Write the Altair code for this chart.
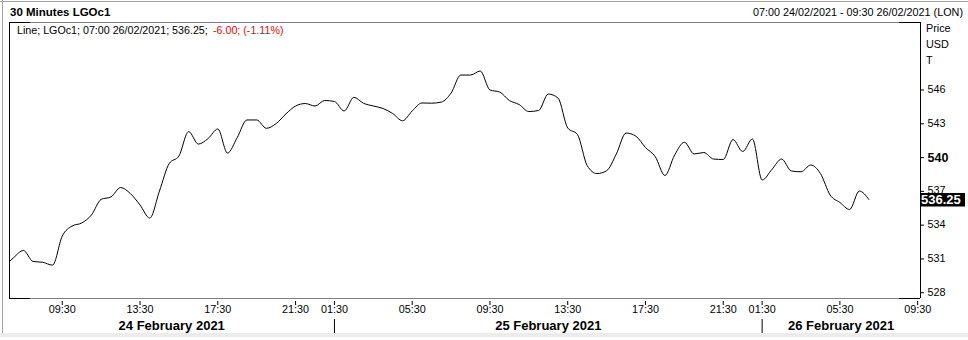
import altair as alt
import pandas as pd

# ---------------- data ----------------
# bar index: 0 = 07:00 24/02/2021, 30-minute bars, session 01:00-23:00 London; -1 = 06:30 (clipped)
bar_index = list(range(-1, 89))
close_prices = [
    530.28, 531.12, 531.75, 530.77, 530.70, 530.45, 533.03, 533.92, 534.19, 534.90,
    536.29, 536.50, 537.34, 536.81, 535.79, 534.63, 537.03, 539.47, 540.14, 542.31,
    541.20, 541.69, 542.54, 540.40, 541.78, 543.34, 543.34, 542.60, 543.02, 543.87,
    544.58, 544.80, 544.58, 545.07, 544.98, 544.14, 545.35, 544.82, 544.58, 544.36,
    543.91, 543.27, 544.14, 544.85, 544.83, 544.93, 545.73, 547.33, 547.33, 547.69,
    546.00, 545.82, 545.07, 544.71, 544.09, 544.18, 545.64, 545.29, 542.63, 542.05,
    539.29, 538.58, 538.83, 540.32, 542.18, 541.91, 540.89, 540.09, 538.41, 540.23,
    541.36, 540.32, 540.45, 539.87, 539.83, 541.60, 540.54, 541.65, 538.01, 538.94,
    539.87, 538.81, 538.74, 539.34, 538.58, 536.67, 536.01, 535.39, 537.03, 536.25,
]
tick_idx = [5, 13, 21, 29, 33, 41, 49, 57, 65, 73, 77, 85, 93]
tick_labels = ["09:30", "13:30", "17:30", "21:30", "01:30", "05:30", "09:30",
               "13:30", "17:30", "21:30", "01:30", "05:30", "09:30"]
y_ticks = [528, 531, 534, 537, 540, 543, 546]
y_bold_tick = 540
x_domain = [-0.48, 93.24]
y_domain = [527.53, 552.04]
day_breaks = [33, 77]
day_labels = ["24 February 2021", "25 February 2021", "26 February 2021"]

title_text = "30 Minutes LGOc1"
range_text = "07:00 24/02/2021 - 09:30 26/02/2021 (LON)"
info_text = f"Line; LGOc1; 07:00 26/02/2021; {close_prices[-1]:.2f}; "
change_text = "-6.00; (-1.11%)"

# ---------------- chart ----------------
FONT = "Liberation Sans"
W, H = 911, 276

df = pd.DataFrame({"idx": bar_index, "price": close_prices})
xscale = alt.Scale(domain=x_domain, nice=False, zero=False)
yscale = alt.Scale(domain=y_domain, nice=False, zero=False)


def X(field):
    return alt.X(field, scale=xscale, axis=None)


def Y(field):
    return alt.Y(field, scale=yscale, axis=None)


line = alt.Chart(df).mark_line(
    color="black", strokeWidth=1, interpolate="monotone", clip=True
).encode(x=X("idx:Q"), y=Y("price:Q"))

dummy = pd.DataFrame({"d": [0]})


def hline(x1, x2, y, color):
    return alt.Chart(dummy).mark_rule(color=color, strokeWidth=1).encode(
        x=alt.value(x1), x2=alt.value(x2), y=alt.value(y))


def vline(x, y1, y2, color):
    return alt.Chart(dummy).mark_rule(color=color, strokeWidth=1).encode(
        x=alt.value(x), y=alt.value(y1), y2=alt.value(y2))


def label(text, x, y, size=10.8, weight="normal", color="black", align="left"):
    return alt.Chart(dummy).mark_text(
        text=text, font=FONT, fontSize=size, fontWeight=weight, color=color,
        align=align, baseline="middle").encode(x=alt.value(x), y=alt.value(y))


frame = [
    hline(0, W, 0.5, "#808080"),
    hline(0, 21, 0.5, "black"),
    hline(W - 21, W, 0.5, "black"),
    hline(0, W, H + 0.5, "#808080"),
    hline(0, 21, H + 0.5, "black"),
    hline(W - 21, W, H + 0.5, "black"),
    vline(0.5, 0, H, "black"),
    vline(W + 0.5, 0, H, "black"),
    hline(-9, 959, -20.5, "#a0a0a0"),
    vline(-6.5, -22, 311, "#a0a0a0"),
]

band = alt.Chart(dummy).mark_rect(color="#ececec").encode(
    x=alt.value(-9), x2=alt.value(959), y=alt.value(311), y2=alt.value(315))

# x axis (time ticks)
xt_df = pd.DataFrame({"idx": tick_idx, "label": tick_labels})
x_ticks = alt.Chart(xt_df).mark_rule(color="black").encode(
    x=X("idx:Q"), y=alt.value(H + 3), y2=alt.value(H + 7))
x_labels = alt.Chart(xt_df).mark_text(
    font=FONT, fontSize=10.8, color="black", baseline="middle"
).encode(x=X("idx:Q"), y=alt.value(H + 12), text="label:N")

# y axis (price ticks, right side)
yt_df = pd.DataFrame({"v": y_ticks})
y_tick_marks = alt.Chart(yt_df).mark_rule(color="black").encode(
    x=alt.value(W), x2=alt.value(W + 4), y=Y("v:Q"))
y_labels = alt.Chart(yt_df).transform_filter(f"datum.v != {y_bold_tick}").mark_text(
    font=FONT, fontSize=10.8, color="black", align="left", baseline="middle"
).encode(x=alt.value(W + 7.5), y=Y("v:Q"), text="v:Q")
y_label_bold = alt.Chart(yt_df).transform_filter(f"datum.v == {y_bold_tick}").mark_text(
    font=FONT, fontSize=12.5, fontWeight="bold", color="black", align="left", baseline="middle"
).encode(x=alt.value(W + 7.5), y=Y("v:Q"), text="v:Q")

seps = alt.Chart(pd.DataFrame({"idx": day_breaks})).mark_rule(color="black").encode(
    x=X("idx:Q"), y=alt.value(297), y2=alt.value(311))

bounds = [x_domain[0]] + day_breaks + [x_domain[1]]
centers = [(a + b) / 2 for a, b in zip(bounds[:-1], bounds[1:])]
dates = alt.Chart(pd.DataFrame({"mid": centers, "label": day_labels})).mark_text(
    font=FONT, fontSize=13, fontWeight="bold", color="black", baseline="middle"
).encode(x=X("mid:Q"), y=alt.value(303.5), text="label:N")

last_df = pd.DataFrame({"price": [close_prices[-1]], "label": [f"{close_prices[-1]:.2f}"]})
box = alt.Chart(last_df).mark_rule(color="black", strokeWidth=13.5, strokeCap="butt").encode(
    x=alt.value(911.5), x2=alt.value(956), y=Y("price:Q"))
box_text = alt.Chart(last_df).mark_text(
    color="white", font=FONT, fontSize=13, fontWeight="bold", align="left", baseline="middle"
).encode(x=alt.value(912), y=Y("price:Q"), text="label:N")

texts = [
    label(title_text, 1, -9, size=11.5, weight="bold"),
    label(range_text, 954, -9, align="right"),
    label(info_text, 8, 9.3, size=10.7),
    label(change_text, 204, 9.3, size=10.7, color="#ff0000"),
    label("Price", 917, 7),
    label("USD", 917, 23),
    label("T", 917, 39),
]

chart = alt.layer(
    band, *frame, line, x_ticks, x_labels, y_tick_marks, y_labels, y_label_bold,
    seps, dates, box, box_text, *texts
).properties(
    width=W, height=H,
    padding={"left": 9, "top": 22, "right": 48, "bottom": 42},
    autosize=alt.AutoSizeParams(type="none"),
).configure_view(stroke=None).configure(background="white")

chart.save("out.html", embed_options={"renderer": "svg", "actions": False})
